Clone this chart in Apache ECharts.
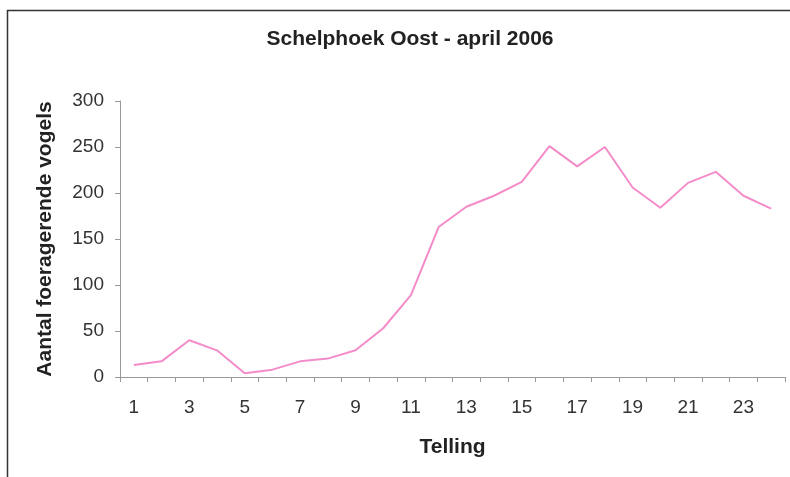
<!DOCTYPE html>
<html>
<head>
<meta charset="utf-8">
<script src="https://cdn.jsdelivr.net/npm/echarts@6/dist/echarts.min.js"></script>
<style>
html,body{margin:0;padding:0;background:#fff;}
#chart{width:790px;height:477px;}
</style>
</head>
<body>
<div id="chart"></div>
<script>
var titleText = 'Schelphoek Oost - april 2006';
var xName = 'Telling';
var yName = 'Aantal foeragerende vogels';
var categories = ['1','2','3','4','5','6','7','8','9','10','11','12','13','14','15','16','17','18','19','20','21','22','23','24'];
var counts = [13, 17, 40, 29, 4, 8, 17, 20, 29, 53, 89, 163, 185, 197, 212, 251, 229, 250, 206, 184, 211, 223, 197, 183];

var chart = echarts.init(document.getElementById('chart'), null, {renderer: 'canvas'});
var font = 'Liberation Sans, Arial, sans-serif';
chart.setOption({
  animation: false,
  backgroundColor: '#ffffff',
  graphic: [{
    type: 'rect',
    shape: {x: 7.5, y: 10.5, width: 800, height: 500},
    style: {fill: 'none', stroke: '#333', lineWidth: 1.5},
    silent: true
  }],
  title: {
    text: titleText,
    left: 405, top: 24, textAlign: 'center',
    textStyle: {fontFamily: font, fontSize: 21, fontWeight: 'bold', color: '#222'}
  },
  grid: {left: 120, right: 5, top: 101, bottom: 100, containLabel: false},
  xAxis: {
    type: 'category',
    data: categories,
    boundaryGap: true,
    name: xName,
    nameLocation: 'middle',
    nameGap: 60,
    nameTextStyle: {fontFamily: font, fontSize: 21, fontWeight: 'bold', color: '#222'},
    axisLine: {lineStyle: {color: '#999', width: 1}},
    axisTick: {show: true, alignWithLabel: false, interval: 0, length: 5, lineStyle: {color: '#999'}},
    axisLabel: {interval: 1, margin: 21, fontFamily: font, fontSize: 19, color: '#333'}
  },
  yAxis: {
    type: 'value',
    min: 0, max: 300, interval: 50,
    name: yName,
    nameLocation: 'middle',
    nameGap: 64,
    nameTextStyle: {fontFamily: font, fontSize: 21, fontWeight: 'bold', color: '#222'},
    axisLine: {show: true, lineStyle: {color: '#999', width: 1}},
    axisTick: {show: true, length: 5, lineStyle: {color: '#999'}},
    splitLine: {show: false},
    axisLabel: {margin: 16, fontFamily: font, fontSize: 19, color: '#333'}
  },
  series: [{
    type: 'line',
    data: counts,
    symbol: 'none',
    lineStyle: {color: '#f48cca', width: 2},
    itemStyle: {color: '#f48cca'}
  }]
});
</script>
</body>
</html>
